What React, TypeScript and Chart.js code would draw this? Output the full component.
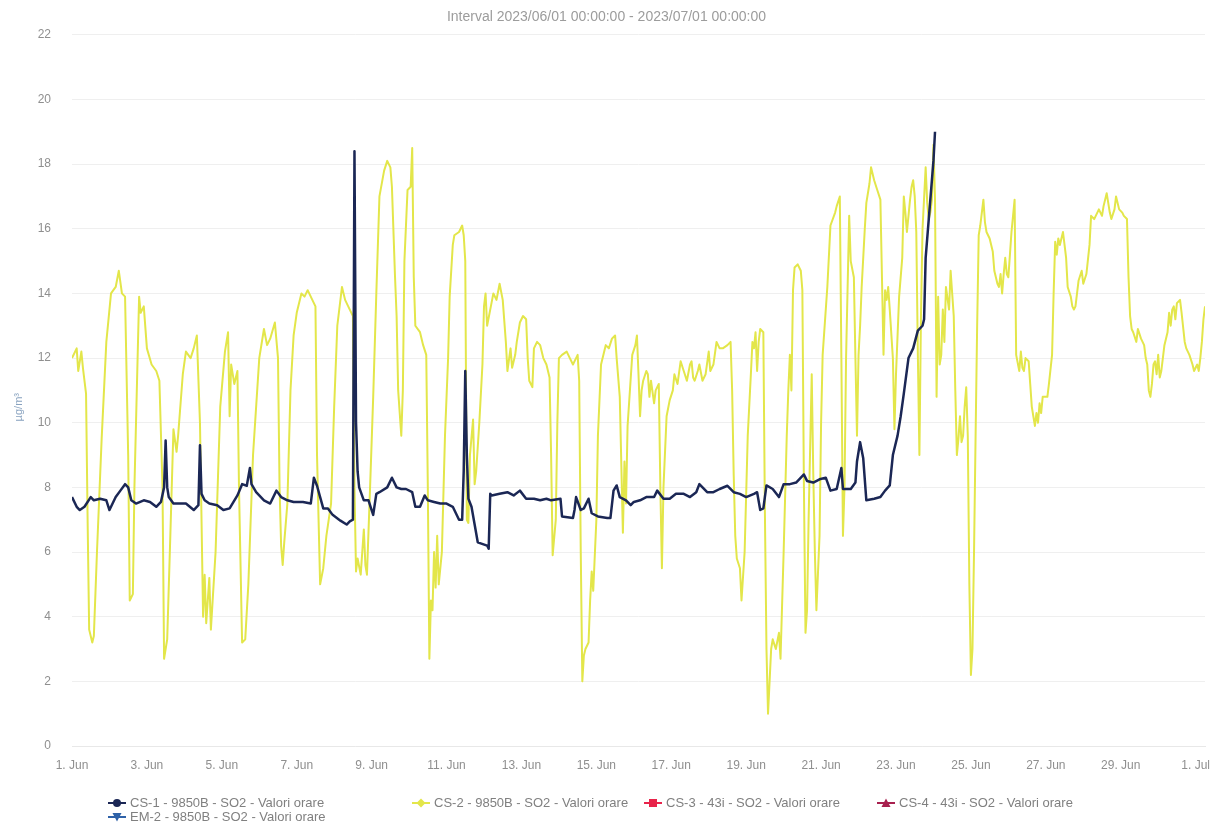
import React, { useEffect, useRef } from "react";
import { Chart, registerables } from "chart.js";

Chart.register(...registerables);

const titleText = "Interval 2023/06/01 00:00:00 - 2023/07/01 00:00:00";
const yAxisTitle = "µg/m³";
const xTickLabels = [
  "1. Jun", "3. Jun", "5. Jun", "7. Jun", "9. Jun", "11. Jun", "13. Jun", "15. Jun",
  "17. Jun", "19. Jun", "21. Jun", "23. Jun", "25. Jun", "27. Jun", "29. Jun", "1. Jul",
];
const xTickStepHours = 48;
const xMaxHours = 726;
const yMin = 0;
const yMax = 22;
const yStep = 2;

const seriesNames = [
  "CS-1 - 9850B - SO2 - Valori orare",
  "CS-2 - 9850B - SO2 - Valori orare",
  "CS-3 - 43i - SO2 - Valori orare",
  "CS-4 - 43i - SO2 - Valori orare",
  "EM-2 - 9850B - SO2 - Valori orare",
];
const seriesColors = ["#1b2755", "#e3e64a", "#e8234a", "#a8204f", "#2f62a8"];
const seriesSymbols = ["circle", "diamond", "square", "triangle", "triangle-down"];

// CS-2 hourly values (hours since 2023/06/01 00:00)
const cs2Hours = [
  0, 3, 4, 6, 7, 9, 10, 11, 13, 14, 16, 19, 22, 25, 28, 30, 32, 34, 36, 37, 39, 40, 43, 44, 46, 48, 51, 54, 56, 58,
  59, 61, 63, 65, 67, 68, 71, 73, 76, 78, 80, 82, 84, 85, 86, 88, 89, 92, 95, 98, 100, 101, 102, 104, 106, 107, 109, 111, 113, 116,
  120, 123, 125, 127, 130, 132, 133, 134, 135, 136, 138, 140, 142, 144, 147, 149, 151, 154, 156, 157, 159, 161, 163, 166, 168, 170, 173, 175, 178,
  180, 181, 182, 183, 185, 187, 188, 189, 191, 193, 195, 197, 200, 202, 204, 205, 207, 208, 209, 211, 212, 213, 215, 217, 218, 219, 220, 223, 225, 227,
  228, 229, 230, 231, 232, 233, 234, 235, 237, 239, 241, 242, 244, 245, 248, 250, 251, 252, 253, 254, 255, 257, 258, 259, 261, 263, 264, 265, 266, 268,
  270, 272, 274, 276, 278, 279, 281, 282, 284, 285, 287, 289, 291, 292, 293, 295, 296, 298, 300, 302, 304, 306, 307, 308, 310, 311, 312, 314, 317, 319,
  321, 323, 324, 325, 326, 327, 328, 329, 331, 332, 333, 334, 336, 337, 339, 342, 344, 346, 348, 349, 351,
  353, 354, 355, 356, 359, 361, 362, 363, 364, 365, 366, 368, 369, 370, 371, 373, 374, 376, 377, 378, 379, 381, 383, 385, 386, 388, 390, 392, 394, 396,
  397, 398, 399, 401, 402, 404, 406, 408, 409, 411, 413, 415, 417, 420, 422, 423, 424, 425, 426, 428, 429, 431, 433, 435, 436, 437, 438, 439, 440, 441,
  443, 444, 445, 446, 447, 448, 449, 451, 453, 454, 456, 458, 459, 460, 461, 462, 463, 465, 467, 468, 469, 470, 471, 472, 474, 475, 476, 477, 479, 480,
  481, 484, 486, 489, 490, 492, 493, 494, 495, 496, 498, 499, 501, 502, 503, 504, 505, 506, 508, 509, 511, 512, 514, 516, 518, 519, 520, 521, 522, 523,
  524, 526, 527, 528, 530, 532,
  533, 534, 535, 536, 537, 538, 539, 540, 541, 542, 543, 544, 545, 547, 548, 549, 550, 551, 552, 553, 554, 555, 556, 557, 558, 559, 560, 562, 563, 564,
  565, 566, 567, 568, 569, 570, 571, 572, 573, 574, 575, 576, 577, 578, 579, 580, 581, 582, 584, 585, 586, 588, 590, 591, 593, 594, 595, 596, 597, 598,
  599, 600, 601, 602, 603, 604, 605, 607, 608, 609, 610, 611, 613, 614, 615, 616, 617, 618, 619, 620, 621, 622, 625, 626, 628, 629, 630, 631, 632, 633,
  634, 635, 636, 637, 638, 640, 641, 642, 643, 644, 645, 647, 648, 650, 652, 653, 655, 657, 658, 660, 661, 663, 665, 666, 668, 669, 671, 673, 674, 676,
  677, 678, 679, 680, 682, 683, 685, 687, 688, 689, 690, 691, 692, 693, 694, 695, 696, 697, 698, 699, 700, 702, 703, 704, 705, 706, 707, 708, 710, 711,
  713, 714, 716, 718, 719, 721, 722, 723, 724, 725, 726,
];
const cs2Values = [
  12.0, 12.3, 11.6, 12.2, 11.7, 10.9, 7, 3.6, 3.2, 3.4, 6, 9.5, 12.5, 14.0, 14.2, 14.7, 14.0, 13.9, 9, 4.5, 4.7, 8, 13.9, 13.4, 13.6, 12.3, 11.8, 11.6, 11.3, 8,
  2.7, 3.3, 6.5, 9.8, 9.1, 9.6, 11.5, 12.2, 12.0, 12.3, 12.7, 10, 4.0, 5.3, 3.8, 5.2, 3.6, 6, 10.5, 12.2, 12.8, 10.2, 11.8, 11.2, 11.6, 8, 3.2, 3.3, 5, 9,
  12, 12.9, 12.4, 12.6, 13.1, 12.0, 8, 6.2, 5.6, 6.3, 7.5, 11, 12.7, 13.4, 14.0, 13.9, 14.1, 13.8, 13.6, 9, 5.0, 5.5, 6.5, 7.5, 10.5, 13.0, 14.2, 13.8, 13.5,
  13.3, 8, 5.4, 5.8, 5.3, 6.7, 5.6, 5.3, 8, 10.8, 14, 17, 17.8, 18.1, 17.9, 17.3, 14.5, 13.3, 11, 9.6, 11, 15, 17.2, 17.3, 18.5, 14.5, 13.0, 12.8, 12.4, 12.1,
  8, 2.7, 4.5, 4.2, 6.0, 4.9, 6.5, 5.0, 6, 9.6, 12, 13.9, 15.5, 15.8, 15.9, 16.1, 15.8, 15, 7, 6.9, 9, 10.1, 8.1, 8.5, 10, 11.8, 13.6, 14.0, 13.0, 13.5,
  14.0, 13.8, 14.3, 13.8, 12.5, 11.6, 12.3, 11.7, 12.1, 12.5, 13.1, 13.3, 13.2, 12.0, 11.3, 11.1, 12.3, 12.5, 12.4, 12.0, 11.8, 11.4, 9, 5.9, 7, 10, 12.0, 12.1, 12.2, 12.0,
  11.8, 12.0, 12.1, 11.3, 6, 2.0, 2.8, 3.0, 3.2, 4.5, 5.4, 4.8, 7, 9.6, 11.8, 12.4, 12.3, 12.6, 12.7, 12.0, 10.8,
  6.6, 8.8, 7.5, 9.9, 12.1, 12.4, 12.7, 11.5, 10.2, 11.0, 11.3, 11.6, 11.5, 10.8, 11.3, 10.6, 11.0, 11.2, 8, 5.5, 8, 10.2, 10.7, 11.0, 11.5, 11.2, 11.9, 11.6, 11.3, 11.8,
  11.9, 11.4, 11.3, 11.6, 11.8, 11.3, 11.5, 12.2, 11.6, 11.8, 12.5, 12.3, 12.3, 12.4, 12.5, 11, 8.4, 6.5, 5.8, 5.5, 4.5, 6, 9.6, 11.5, 12.5, 12.3, 12.8, 11.6, 12.5, 12.9,
  12.8, 7.2, 3, 1.0, 2.0, 3.0, 3.3, 3.0, 3.5, 2.7, 6, 9.6, 11.0, 12.1, 11, 14.1, 14.8, 14.9, 14.7, 14.1, 8, 3.5, 4.2, 7, 11.5, 8.4, 6, 4.2, 6.5, 10,
  12.1, 14.2, 16.1, 16.5, 16.7, 17.0, 12, 6.5, 8, 12, 16.4, 15, 14.5, 12, 9.6, 12.1, 13, 14.2, 16, 16.8, 17.4, 17.9, 17.5, 17.2, 16.9, 14.5, 12.1, 14.1, 13.8, 14.2,
  13.5, 12, 9.8, 11.5, 13.9, 15.1,
  17.0, 16.5, 15.9, 16.4, 16.9, 17.3, 17.5, 17.0, 15.9, 12.1, 9.0, 13.3, 16, 17.9, 16.8, 16.3, 16.5, 16.9, 18.6, 16.9, 10.8, 13.9, 11.8, 12.1, 13.5, 12.5, 14.2, 13.5, 14.7, 14.0,
  13.3, 11, 9.0, 9.5, 10.2, 9.4, 9.6, 10.5, 11.1, 9.6, 5, 2.2, 3.0, 6, 9.6, 13, 15.8, 16.1, 16.9, 16.2, 15.9, 15.7, 15.3, 14.7, 14.3, 14.2, 14.6, 14.0, 14.6, 15.1,
  14.6, 14.5, 15.2, 15.9, 16.4, 16.9, 12.1, 11.6, 12.2, 11.7, 11.6, 12.0, 11.9, 11.2, 10.5, 10.2, 9.9, 10.3, 10.0, 10.6, 10.3, 10.8, 10.8, 11.2, 12.1, 14, 15.6, 15.2, 15.7, 15.5,
  15.7, 15.9, 15.5, 15.1, 14.2, 13.9, 13.6, 13.5, 13.6, 14.0, 14.4, 14.7, 14.3, 14.6, 15.5, 16.4, 16.3, 16.5, 16.6, 16.4, 16.7, 17.1, 16.5, 16.3, 16.6, 17.0, 16.6, 16.5, 16.4, 16.3,
  14.5, 13.3, 12.9, 12.8, 12.5, 12.9, 12.6, 12.4, 12.0, 11.8, 11.0, 10.8, 11.2, 11.8, 11.9, 11.5, 12.1, 11.4, 11.6, 12.0, 12.4, 12.8, 13.4, 13.0, 13.5, 13.6, 13.2, 13.7, 13.8, 13.4,
  12.5, 12.3, 12.1, 11.8, 11.6, 11.8, 11.6, 12.0, 12.5, 13.2, 13.6,
];

// CS-1 hourly values (hours since 2023/06/01 00:00)
const cs1Hours = [
  0, 3, 5, 8, 12, 14, 18, 22, 24, 28, 31, 34, 36, 38, 41, 46, 50, 54, 57, 59, 60, 61, 62, 65, 69, 73, 78, 81, 82, 83,
  85, 88, 93, 97, 101, 106, 109, 112, 114, 115, 118, 123, 127, 131, 134, 138, 142, 148, 153, 155, 157, 159, 161, 164, 167, 172, 176, 178,
  180, 181, 182, 183, 184, 187, 190, 192, 193, 195, 197, 202, 205, 208, 211, 214, 218, 220, 223, 226, 228, 232, 236, 240, 244, 248, 250, 251, 252, 253,
  254, 256, 258, 260, 266, 267, 268, 269, 274, 279, 283, 287, 291, 296, 300, 304, 307, 313, 314, 321, 322, 323, 326, 328, 331, 333, 337, 343, 345, 347,
  349, 351, 355, 358, 360, 364, 368, 373, 375, 379, 383, 387, 392, 396, 400, 402, 407, 411, 415, 420, 424, 428, 432, 437, 439, 441, 443, 445, 449, 453,
  456, 460, 464, 469, 471, 475, 479, 483, 486, 490, 493, 494, 499, 502, 503, 505, 507, 509, 514, 518, 521, 524, 526, 529, 531, 533, 536, 539, 542, 545,
  546, 547, 550, 552, 553,
];
const cs1Values = [
  7.7, 7.4, 7.3, 7.4, 7.7, 7.6, 7.65, 7.6, 7.3, 7.7, 7.9, 8.1, 8.0, 7.6, 7.5, 7.6, 7.55, 7.4, 7.55, 8.0, 9.45, 8.0, 7.7, 7.5, 7.5, 7.5, 7.3, 7.45, 9.3, 7.8,
  7.6, 7.5, 7.45, 7.3, 7.35, 7.75, 8.1, 8.05, 8.6, 8.1, 7.85, 7.6, 7.5, 7.9, 7.7, 7.6, 7.55, 7.55, 7.5, 8.3, 8.05, 7.7, 7.35, 7.35, 7.15, 6.97, 6.85, 6.95,
  7.0, 18.4, 10.0, 8.5, 8.0, 7.6, 7.6, 7.3, 7.15, 7.8, 7.85, 8.0, 8.3, 8.0, 7.95, 7.95, 7.85, 7.4, 7.4, 7.75, 7.6, 7.55, 7.5, 7.5, 7.4, 7.0, 7.0, 8.5, 11.6, 9,
  7.65, 7.4, 6.85, 6.3, 6.2, 6.1, 7.8, 7.75, 7.8, 7.85, 7.75, 7.9, 7.65, 7.65, 7.6, 7.65, 7.6, 7.65, 7.1, 7.05, 7.3, 7.7, 7.3, 7.35, 7.65, 7.2, 7.1, 7.05, 7.05, 7.9,
  8.06, 7.7, 7.6, 7.45, 7.55, 7.6, 7.7, 7.7, 7.9, 7.65, 7.65, 7.8, 7.8, 7.7, 7.85, 8.1, 7.85, 7.85, 7.95, 8.05, 7.85, 7.8, 7.7, 7.8, 7.85, 7.3, 7.35, 8.06, 7.95, 7.7,
  8.1, 8.1, 8.15, 8.4, 8.2, 8.15, 8.25, 8.3, 7.9, 7.95, 8.6, 7.95, 7.95, 8.15, 8.8, 9.4, 8.9, 7.6, 7.65, 7.7, 7.9, 8.06, 9.0, 9.6, 10.2, 10.9, 12.0, 12.3, 12.85, 13.0,
  13.2, 15.1, 16.9, 18.1, 19.0,
];

const FONT = '"Liberation Sans", Arial, Helvetica, sans-serif';

function toPoints(hours: number[], values: number[]) {
  return hours.map((h, i) => ({ x: h, y: values[i] }));
}

function LegendSymbol({ color, symbol }: { color: string; symbol: string }) {
  let marker: React.ReactNode = null;
  if (symbol === "circle") marker = <circle cx={9} cy={6} r={4} fill={color} />;
  else if (symbol === "diamond") marker = <polygon points="9,1.5 13.5,6 9,10.5 4.5,6" fill={color} />;
  else if (symbol === "square") marker = <rect x={5} y={2} width={8} height={8} fill={color} />;
  else if (symbol === "triangle") marker = <polygon points="9,1.5 13.5,10 4.5,10" fill={color} />;
  else marker = <polygon points="4.5,2 13.5,2 9,10.5" fill={color} />;
  return (
    <svg width={18} height={12} style={{ display: "block" }}>
      <line x1={0} y1={6} x2={18} y2={6} stroke={color} strokeWidth={2} />
      {marker}
    </svg>
  );
}

const legendSlots = [
  { left: 108, top: 796 },
  { left: 412, top: 796 },
  { left: 644, top: 796 },
  { left: 877, top: 796 },
  { left: 108, top: 810 },
];

export default function App() {
  const canvasRef = useRef<HTMLCanvasElement | null>(null);

  useEffect(() => {
    document.body.style.margin = "0";
    const canvas = canvasRef.current;
    if (!canvas) return;
    const tickColor = "#8f8f8f";
    const chart = new Chart(canvas, {
      type: "line",
      data: {
        datasets: [
          {
            label: seriesNames[0],
            data: toPoints(cs1Hours, cs1Values),
            borderColor: seriesColors[0],
            backgroundColor: seriesColors[0],
            borderWidth: 2.5,
            pointRadius: 0,
            borderJoinStyle: "round",
          },
          {
            label: seriesNames[1],
            data: toPoints(cs2Hours, cs2Values),
            borderColor: seriesColors[1],
            backgroundColor: seriesColors[1],
            borderWidth: 2,
            pointRadius: 0,
            borderJoinStyle: "round",
          },
          { label: seriesNames[2], data: [], borderColor: seriesColors[2], pointRadius: 0 },
          { label: seriesNames[3], data: [], borderColor: seriesColors[3], pointRadius: 0 },
          { label: seriesNames[4], data: [], borderColor: seriesColors[4], pointRadius: 0 },
        ],
      },
      options: {
        animation: false,
        responsive: false,
        maintainAspectRatio: false,
        events: [],
        layout: { padding: { left: 8, right: 10, top: 0, bottom: 0 } },
        plugins: {
          legend: { display: false },
          tooltip: { enabled: false },
          title: {
            display: true,
            text: titleText,
            color: "#9c9c9c",
            font: { family: FONT, size: 14, weight: "normal" },
            padding: { top: 9, bottom: 9 },
          },
        },
        scales: {
          x: {
            type: "linear",
            min: 0,
            max: xMaxHours,
            grid: { display: false, drawTicks: false },
            border: { display: true, color: "#e8e8e8" },
            ticks: {
              stepSize: xTickStepHours,
              autoSkip: false,
              maxRotation: 0,
              includeBounds: false,
              padding: 12,
              color: tickColor,
              font: { family: FONT, size: 12 },
              callback: (v: any) => {
                const n = Number(v);
                if (n % xTickStepHours !== 0) return "";
                return xTickLabels[n / xTickStepHours] ?? "";
              },
            },
            afterFit: (s: any) => {
              s.height = 80;
              s.paddingRight = 0;
              s.paddingLeft = 0;
            },
          },
          y: {
            min: yMin,
            max: yMax,
            grid: { color: "#efefef", drawTicks: false, lineWidth: 1 },
            border: { display: false },
            ticks: {
              stepSize: yStep,
              padding: 21,
              color: tickColor,
              font: { family: FONT, size: 12 },
            },
            title: {
              display: true,
              text: yAxisTitle + "           ",
              color: "#88a2bf",
              font: { family: FONT, size: 11 },
              padding: { top: 4, bottom: 0 },
            },
            afterFit: (s: any) => {
              s.width = 64;
            },
          },
        },
      },
    });
    return () => chart.destroy();
  }, []);

  return (
    <div style={{ position: "fixed", left: 0, top: 0, width: 1215, height: 826, background: "#ffffff" }}>
      <canvas ref={canvasRef} width={1215} height={826} style={{ display: "block" }} />
      {seriesNames.map((name, i) => (
        <div
          key={name}
          style={{
            position: "absolute",
            left: legendSlots[i].left,
            top: legendSlots[i].top,
            display: "flex",
            alignItems: "center",
            height: 14,
            fontFamily: FONT,
            fontSize: 13,
            color: "#808080",
            whiteSpace: "nowrap",
          }}
        >
          <LegendSymbol color={seriesColors[i]} symbol={seriesSymbols[i]} />
          <span style={{ marginLeft: 4, lineHeight: "14px" }}>{name}</span>
        </div>
      ))}
    </div>
  );
}
